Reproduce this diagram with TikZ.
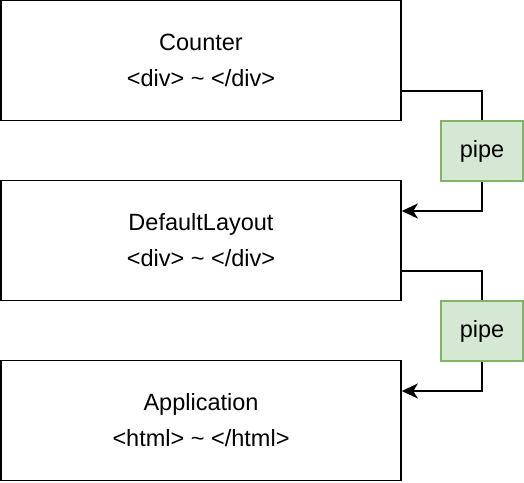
\documentclass[tikz,border=0pt]{standalone}
\usepackage{fontspec}
\setmainfont{Liberation Sans}
\usetikzlibrary{arrows.meta}
\definecolor{pipefill}{HTML}{D5E8D4}
\definecolor{pipedraw}{HTML}{82B366}
\begin{document}
\begin{tikzpicture}[x=1pt,y=-1pt,
  comp/.style={draw=black,line width=1.6pt,minimum width=400pt,minimum height=120pt,inner sep=0pt,align=center,font=\fontsize{23.5}{36}\selectfont},
  pipebox/.style={draw=pipedraw,fill=pipefill,line width=1.6pt,minimum width=82pt,minimum height=60pt,inner sep=0pt,font=\fontsize{23.5}{28}\selectfont},
  conn/.style={draw=black,line width=1.6pt},
  arr/.style={conn,-{Stealth[length=16pt,width=15pt,inset=4.5pt]}}]
\useasboundingbox (0,0) rectangle (524,482);
\node[comp] (counter) at (201,60.5) {Counter\\\textless div\textgreater\ \textasciitilde\ \textless/div\textgreater};
\node[comp] (layout) at (201,240.5) {DefaultLayout\\\textless div\textgreater\ \textasciitilde\ \textless/div\textgreater};
\node[comp] (app) at (201,420.5) {Application\\\textless html\textgreater\ \textasciitilde\ \textless/html\textgreater};
\node[pipebox] (p1) at (482,151) {pipe};
\node[pipebox] (p2) at (482,331) {pipe};
\draw[conn] (counter.east |- 0,91) -| (p1.north);
\draw[arr] (p1.south) |- (layout.east |- 0,211);
\draw[conn] (layout.east |- 0,271) -| (p2.north);
\draw[arr] (p2.south) |- (app.east |- 0,391);
\end{tikzpicture}
\end{document}
